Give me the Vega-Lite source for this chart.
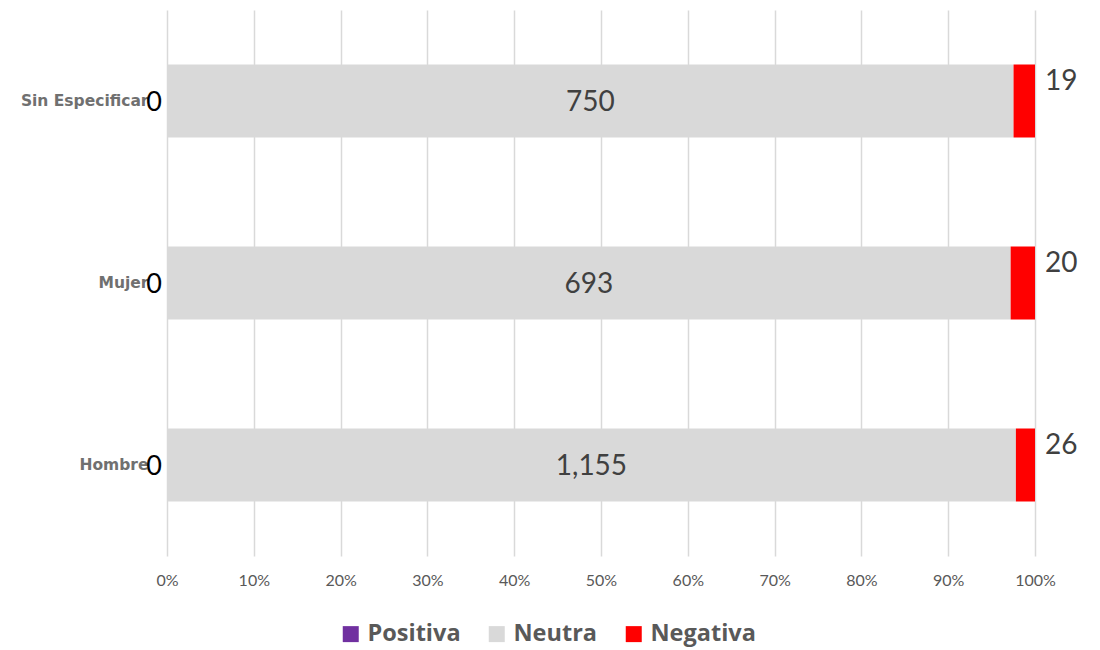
{
  "$schema": "https://vega.github.io/schema/vega-lite/v6.json",
  "width": 868,
  "height": 546,
  "autosize": {"type": "none"},
  "padding": {"left": 167, "top": 10, "right": 65, "bottom": 94},
  "background": "white",
  "config": {"view": {"stroke": null}, "font": "Lato"},
  "data": {
    "values": [
      {"genero": "Sin Especificar", "sentimiento": "Positiva", "valor": 0, "orden": 1},
      {"genero": "Sin Especificar", "sentimiento": "Neutra", "valor": 750, "orden": 2},
      {"genero": "Sin Especificar", "sentimiento": "Negativa", "valor": 19, "orden": 3},
      {"genero": "Mujer", "sentimiento": "Positiva", "valor": 0, "orden": 1},
      {"genero": "Mujer", "sentimiento": "Neutra", "valor": 693, "orden": 2},
      {"genero": "Mujer", "sentimiento": "Negativa", "valor": 20, "orden": 3},
      {"genero": "Hombre", "sentimiento": "Positiva", "valor": 0, "orden": 1},
      {"genero": "Hombre", "sentimiento": "Neutra", "valor": 1155, "orden": 2},
      {"genero": "Hombre", "sentimiento": "Negativa", "valor": 26, "orden": 3}
    ]
  },
  "transform": [
    {"stack": "valor", "groupby": ["genero"], "sort": [{"field": "orden", "order": "ascending"}], "offset": "normalize", "as": ["x0", "x1"]}
  ],
  "encoding": {
    "y": {
      "field": "genero",
      "type": "nominal",
      "sort": ["Sin Especificar", "Mujer", "Hombre"],
      "scale": {"paddingInner": 0.6, "paddingOuter": 0.3},
      "axis": {
        "title": null,
        "domain": false,
        "ticks": false,
        "grid": false,
        "labelFont": "DejaVu Sans",
        "labelFontWeight": "bold",
        "labelFontSize": 15.5,
        "labelColor": "#707070",
        "labelPadding": 19
      }
    }
  },
  "layer": [
    {
      "mark": {"type": "bar"},
      "encoding": {
        "x": {
          "field": "x0",
          "type": "quantitative",
          "scale": {"domain": [0, 1], "nice": false},
          "axis": {
            "title": null,
            "format": "%",
            "values": [0, 0.1, 0.2, 0.3, 0.4, 0.5, 0.6, 0.7, 0.8, 0.9, 1],
            "domain": false,
            "ticks": false,
            "grid": true,
            "gridColor": "#d9d9d9",
            "gridWidth": 1.5,
            "labelFlush": false,
            "labelColor": "#595959",
            "labelFontSize": 16,
            "labelPadding": 16
          }
        },
        "x2": {"field": "x1"},
        "color": {
          "field": "sentimiento",
          "type": "nominal",
          "scale": {"domain": ["Positiva", "Neutra", "Negativa"], "range": ["#7030a0", "#d9d9d9", "#ff0000"]},
          "legend": {
            "title": null,
            "orient": "none",
            "legendX": 172,
            "legendY": 612,
            "direction": "horizontal",
            "labelFont": "Open Sans",
            "labelFontSize": 23.5,
            "labelFontWeight": "bold",
            "labelColor": "#595959",
            "symbolType": "square",
            "symbolSize": 256,
            "symbolStrokeWidth": 0,
            "columnPadding": 24,
            "labelOffset": 5
          }
        }
      }
    },
    {
      "transform": [
        {"filter": "datum.sentimiento === 'Neutra'"},
        {"fold": ["x0", "x1"], "as": ["extremo", "pos"]}
      ],
      "mark": {"type": "text", "fontSize": 28, "color": "#404040", "baseline": "middle", "dy": 2},
      "encoding": {
        "x": {"field": "pos", "aggregate": "mean", "type": "quantitative"},
        "text": {"field": "valor", "aggregate": "max", "type": "quantitative", "format": ","}
      }
    },
    {
      "transform": [{"filter": "datum.sentimiento === 'Negativa'"}],
      "mark": {"type": "text", "fontSize": 28, "color": "#404040", "baseline": "middle", "align": "left", "dx": 10, "dy": -19},
      "encoding": {
        "x": {"field": "x1", "type": "quantitative"},
        "text": {"field": "valor", "type": "quantitative", "format": ","}
      }
    },
    {
      "transform": [{"filter": "datum.sentimiento === 'Positiva'"}],
      "mark": {"type": "text", "fontSize": 27, "color": "#000000", "baseline": "middle", "align": "right", "dx": -5, "dy": 2},
      "encoding": {
        "x": {"field": "x0", "type": "quantitative"},
        "text": {"field": "valor", "type": "quantitative", "format": ","}
      }
    }
  ]
}
